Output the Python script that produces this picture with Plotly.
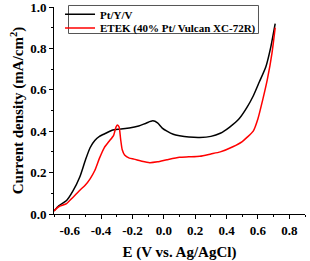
import plotly.graph_objects as go

black_E = [-0.70, -0.67, -0.62, -0.58, -0.535, -0.50, -0.47, -0.44, -0.41, -0.37, -0.33, -0.28, -0.22, -0.16,
           -0.11, -0.07, -0.04, -0.01, 0.02, 0.06, 0.10, 0.16, 0.23, 0.30, 0.36, 0.42, 0.48, 0.53, 0.57,
           0.61, 0.65, 0.68, 0.71]
black_j = [0.015, 0.04, 0.065, 0.11, 0.18, 0.26, 0.32, 0.355, 0.375, 0.39, 0.405, 0.41, 0.415, 0.425,
           0.44, 0.45, 0.44, 0.415, 0.40, 0.385, 0.378, 0.372, 0.37, 0.375, 0.39, 0.42, 0.46, 0.515, 0.57,
           0.64, 0.71, 0.80, 0.92]

red_E = [-0.70, -0.67, -0.62, -0.58, -0.535, -0.50, -0.47, -0.44, -0.41, -0.38, -0.35, -0.32, -0.305,
         -0.295, -0.285, -0.275, -0.265, -0.25, -0.22, -0.19, -0.14, -0.09, -0.04, 0.02, 0.10, 0.16, 0.23,
         0.30, 0.36, 0.44, 0.50, 0.53, 0.57, 0.60, 0.63, 0.66, 0.69, 0.71]
red_j = [0.015, 0.035, 0.05, 0.08, 0.115, 0.14, 0.17, 0.21, 0.27, 0.32, 0.35, 0.38, 0.42,
         0.43, 0.42, 0.36, 0.31, 0.285, 0.27, 0.265, 0.255, 0.248, 0.252, 0.262, 0.274, 0.276, 0.279,
         0.29, 0.30, 0.325, 0.35, 0.37, 0.40, 0.46, 0.55, 0.65, 0.78, 0.90]

names = ["Pt/Y/V", "ETEK (40% Pt/ Vulcan XC-72R)"]
x_ticks = [-0.6, -0.4, -0.2, 0.0, 0.2, 0.4, 0.6, 0.8]
y_ticks = [0.0, 0.2, 0.4, 0.6, 0.8, 1.0]

FONT = "Liberation Serif"

fig = go.Figure()
fig.add_trace(go.Scatter(x=black_E, y=black_j, mode="lines", name=names[0], legend="legend",
                         line=dict(color="black", width=1.5, shape="spline", smoothing=0.6)))
fig.add_trace(go.Scatter(x=red_E, y=red_j, mode="lines", name=names[1], legend="legend2",
                         line=dict(color="red", width=1.5, shape="spline", smoothing=0.6)))

leg_common = dict(xanchor="left", yanchor="middle", borderwidth=0, bgcolor="rgba(0,0,0,0)",
                  font=dict(family=FONT, size=11, weight="bold"), itemwidth=30)

# legend frame (paper coordinates)
fig.add_shape(type="rect", xref="paper", yref="paper",
              x0=0.05777, x1=0.81474, y0=0.87198, y1=1.00725,
              line=dict(color="#555555", width=1), fillcolor="rgba(0,0,0,0)", layer="above")

fig.update_layout(
    width=310, height=261,
    margin=dict(l=54, r=5, t=7, b=47, autoexpand=False),
    paper_bgcolor="white", plot_bgcolor="white",
    font=dict(family=FONT, size=13, color="black", weight="bold"),
    showlegend=True,
    legend=dict(x=0.024, y=0.965, **leg_common),
    legend2=dict(x=0.024, y=0.899, **leg_common),
)
fig.update_xaxes(
    range=[-0.7, 0.9], tickvals=x_ticks, ticktext=[f"{v:.1f}" for v in x_ticks],
    showgrid=False, zeroline=False, showline=True, linecolor="black", linewidth=1,
    ticks="outside", ticklen=4, tickcolor="black", automargin=False, ticklabeloverflow="allow",
    minor=dict(ticks="outside", ticklen=2, dtick=0.1, tick0=0, tickcolor="black"),
    tickfont=dict(family=FONT, size=13, weight="bold"),
    title=dict(text="E (V vs. Ag/AgCl)", font=dict(family=FONT, size=15, weight="bold"), standoff=10),
)
fig.update_yaxes(
    range=[0, 1.0], tickvals=y_ticks, ticktext=[f"{v:.1f}" for v in y_ticks],
    showgrid=False, zeroline=False, showline=True, linecolor="black", linewidth=1,
    ticks="outside", ticklen=4, tickcolor="black", automargin=False, ticklabeloverflow="allow",
    minor=dict(ticks="outside", ticklen=2, dtick=0.1, tick0=0, tickcolor="black"),
    tickfont=dict(family=FONT, size=13, weight="bold"),
    title=dict(text="Current density (mA/cm<sup>2</sup>)", font=dict(family=FONT, size=15, weight="bold"), standoff=2),
)

fig.write_html("out.html", config={"displayModeBar": False},
               post_script="document.body.style.margin='0';")
